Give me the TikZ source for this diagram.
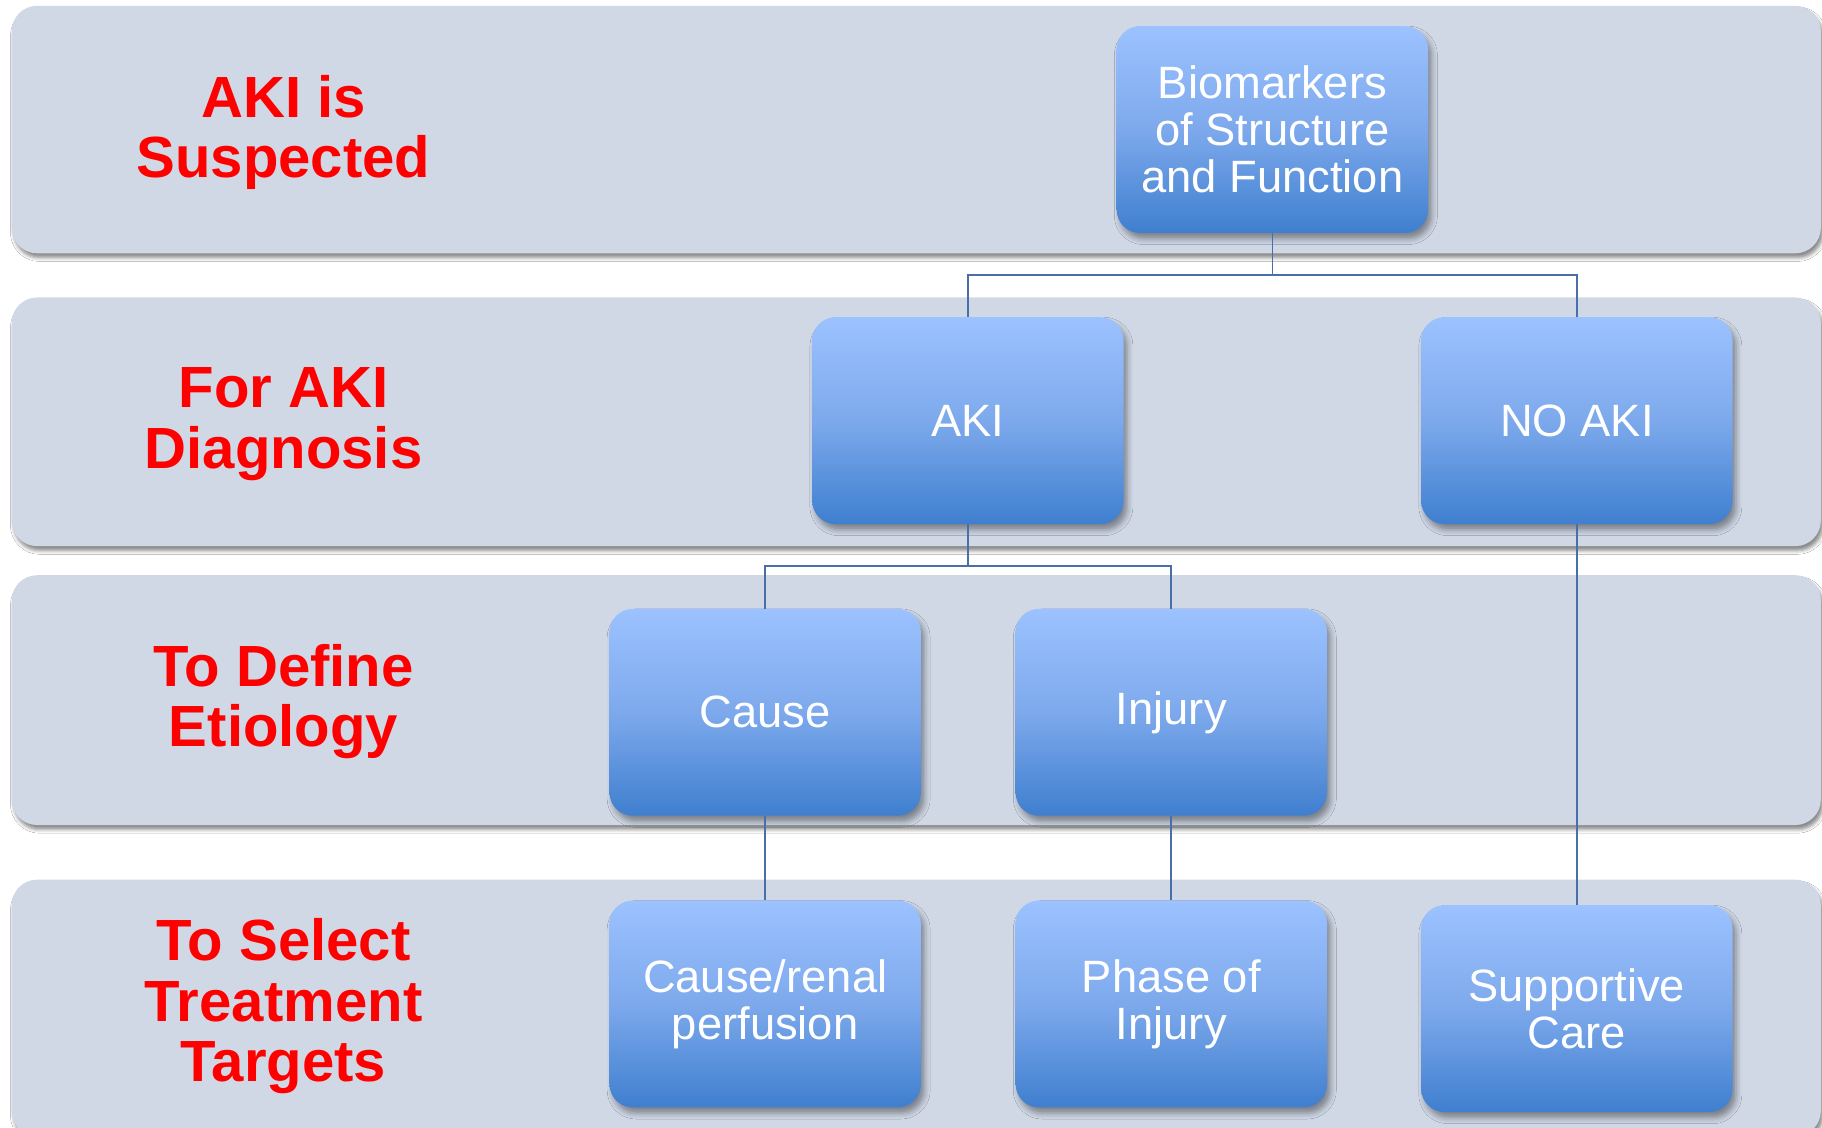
\documentclass[tikz,border=0pt]{standalone}
\usepackage{fontspec}
\setmainfont{Liberation Sans}
\usetikzlibrary{shadows,shadows.blur}
\definecolor{bandfill}{HTML}{D0D8E6}
\definecolor{boxtop}{HTML}{9CC2FF}
\definecolor{boxmid}{HTML}{7DA9EC}
\definecolor{boxbot}{HTML}{3F7FCF}
\definecolor{wirecol}{HTML}{4A6EA8}
\definecolor{stagecol}{HTML}{FF0000}
\begin{document}
\begin{tikzpicture}[x=1pt,y=-1pt,
  band/.style={fill=bandfill, rounded corners=22pt,
    blur shadow={shadow xshift=2pt, shadow yshift=-4pt, shadow blur radius=3pt,
      shadow opacity=45}},
  stagelabel/.style={text=stagecol, font=\fontsize{50}{52}\selectfont\bfseries,
    align=center, inner sep=0pt},
  stepbox/.style={rounded corners=20pt, minimum width=268pt, minimum height=178pt,
    top color=boxtop, bottom color=boxbot, middle color=boxmid,
    text=white, font=\fontsize{39}{40.5}\selectfont, align=center, inner sep=0pt,
    blur shadow={shadow xshift=3pt, shadow yshift=-5pt, shadow blur radius=5pt,
      shadow opacity=40}},
  wire/.style={draw=wirecol, line width=1.4pt}]

\fill[white] (0,0) rectangle (1568,970);
\useasboundingbox (0,0) rectangle (1568,970);

% horizontal stage bands
\fill[band] (10,5) rectangle (1567,218);
\fill[band] (10,256) rectangle (1567,470);
\fill[band] (10,495) rectangle (1567,710);
\fill[band] (10,757) rectangle (1567,978);

% stage captions
\node[stagelabel] (s1) at (244,114) {AKI is\\Suspected};
\node[stagelabel] (s2) at (244,365) {For AKI\\Diagnosis};
\node[stagelabel] (s3) at (244,604) {To Define\\Etiology};
\node[stagelabel] (s4) at (244,866) {To Select\\Treatment\\Targets};

% flow boxes
\node[stepbox] (bio) at (1095,111.5) {Biomarkers\\of Structure\\and Function};
\node[stepbox] (aki) at (833,362) {AKI};
\node[stepbox] (noaki) at (1357,362) {NO AKI};
\node[stepbox] (cause) at (658.5,613) {Cause};
\node[stepbox] (injury) at (1008,613) {\raisebox{-3pt}{Injury}};
\node[stepbox] (renal) at (658.5,864) {Cause/renal\\perfusion};
\node[stepbox] (phase) at (1008,864) {Phase of\\Injury};
\node[stepbox] (care) at (1357,868) {Supportive\\Care};

% connectors
\draw[wire] (bio.south) -- ++(0,36) -| (aki.north);
\draw[wire] (bio.south) -- ++(0,36) -| (noaki.north);
\draw[wire] (aki.south) -- ++(0,36) -| (cause.north);
\draw[wire] (aki.south) -- ++(0,36) -| (injury.north);
\draw[wire] (cause.south) -- (renal.north);
\draw[wire] (injury.south) -- (phase.north);
\draw[wire] (noaki.south) -- (care.north);
\end{tikzpicture}
\end{document}
